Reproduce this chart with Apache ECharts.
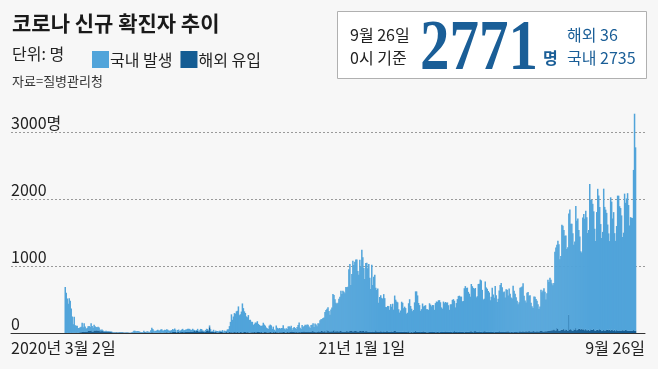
<!DOCTYPE html>
<html><head><meta charset="utf-8">
<script src="https://cdn.jsdelivr.net/npm/echarts@6/dist/echarts.min.js"></script>
<style>html,body{margin:0;padding:0;background:#f7f7f7}#c{width:658px;height:369px}</style>
</head><body><div id="c"></div>
<script>
// ---- Daily new confirmed cases (0시 기준), total and overseas-imported ----
const total_2020_03 = [686,600,516,438,518,483,367,248,131,242,114,110,107,76,74,84,93,152,87,147,98,64,76,100,104,91,146,105,78,125];
const overseas_2020_03 = [1,1,2,1,0,2,1,2,3,5,4,6,5,5,6,12,11,17,14,20,15,14,19,31,39,31,41,21,24,36];
const total_2020_04 = [101,89,86,94,81,47,47,53,39,27,30,32,25,27,27,22,22,18,8,13,9,11,8,6,10,10,10,14,9,4];
const overseas_2020_04 = [38,36,40,31,41,25,26,31,27,20,19,24,18,19,19,15,17,12,5,8,5,9,7,5,6,7,7,9,6,4];
const total_2020_05 = [9,6,13,8,3,2,4,12,18,34,35,27,26,29,27,19,13,15,13,32,12,20,23,25,16,19,40,79,58,39,27];
const overseas_2020_05 = [5,4,3,5,3,1,3,3,1,8,6,4,3,4,5,7,2,5,4,7,10,8,4,6,5,5,3,11,8,3,4];
const total_2020_06 = [35,38,49,39,39,51,57,38,38,50,45,56,49,37,34,37,43,59,49,67,48,17,46,51,28,39,51,62,42,43];
const overseas_2020_06 = [5,3,4,5,6,9,4,3,6,7,8,13,8,3,10,11,9,15,17,18,16,7,16,21,9,14,14,20,12,13];
const total_2020_07 = [51,54,63,63,61,48,44,63,50,45,35,44,62,33,39,61,60,39,34,26,45,63,59,41,113,58,25,28,48,18,36];
const overseas_2020_07 = [15,21,20,21,18,24,19,22,25,31,24,31,30,19,21,25,26,26,21,13,19,32,40,27,86,23,15,19,16,12,23];
const total_2020_08 = [31,30,23,34,33,23,43,20,36,28,34,54,56,103,166,279,197,246,297,288,324,332,397,266,280,320,441,371,323,299,248];
const overseas_2020_08 = [11,7,10,13,16,19,13,6,8,10,15,7,9,18,11,12,9,11,14,12,9,17,10,8,16,13,7,12,15,16,10];
const total_2020_09 = [235,267,195,198,168,167,119,136,156,155,176,136,121,109,106,113,153,126,110,82,70,61,110,125,114,61,95,50,38,113];
const overseas_2020_09 = [13,11,6,9,11,12,11,16,11,11,15,15,19,11,15,8,8,14,14,12,9,10,11,22,11,6,14,10,15,11];
const total_2020_10 = [77,63,75,64,73,75,114,69,54,72,58,98,102,84,110,47,73,91,76,58,91,121,155,77,61,119,88,103,125,114,127];
const overseas_2020_10 = [10,8,12,12,10,11,19,14,6,6,16,11,11,17,22,22,17,15,10,23,13,10,17,11,16,15,22,21,21,15,15];
const total_2020_11 = [124,97,75,118,125,145,89,143,126,100,146,143,191,205,208,223,230,313,343,363,386,330,271,349,382,583,569,503,450,438];
const overseas_2020_11 = [23,19,18,19,25,28,15,19,11,15,24,25,15,29,32,21,21,28,10,43,25,28,16,31,19,28,44,19,36,24];
const total_2020_12 = [451,511,540,629,583,631,615,594,686,682,689,950,1030,718,880,1078,1014,1064,1097,1097,926,869,1092,985,1241,1132,970,807,1046,1050,967];
const overseas_2020_12 = [31,18,28,29,24,16,21,20,24,31,24,22,28,36,32,24,26,28,30,26,21,24,28,30,25,28,30,20,30,25,23];
const total_2021_01 = [1029,824,657,1020,715,840,869,674,641,665,451,537,562,524,513,580,520,389,386,404,401,346,431,392,437,349,559,497,469,458,355];
const overseas_2021_01 = [19,23,16,23,22,19,16,41,24,23,22,21,25,23,14,26,21,17,28,25,18,16,23,24,17,26,38,28,19,22,16];
const total_2021_02 = [305,336,467,451,370,393,372,289,303,444,504,403,362,326,344,457,621,621,561,448,416,332,356,440,396,406,415,356];
const overseas_2021_02 = [22,17,16,20,19,23,19,17,14,26,10,11,19,10,14,20,31,17,19,18,16,14,17,22,25,18,20,11];
const total_2021_03 = [355,344,444,424,398,418,416,346,446,470,465,488,490,459,382,363,469,445,463,452,456,415,346,428,430,494,505,482,382,447,506];
const overseas_2021_03 = [11,13,16,16,23,15,17,16,12,13,19,14,11,22,15,16,18,21,23,22,16,17,20,15,19,12,15,29,17,15,14];
const total_2021_04 = [551,557,543,543,473,478,668,700,671,677,614,587,542,731,698,673,658,672,532,549,731,735,797,785,644,499,512,769,680,661];
const overseas_2021_04 = [18,15,22,19,22,17,11,21,22,19,18,21,25,26,20,12,27,28,23,18,19,24,20,16,13,22,26,25,18,20];
const total_2021_05 = [627,606,488,541,676,574,525,701,564,463,511,635,715,747,681,610,619,528,654,646,561,666,585,530,516,707,629,587,533,480,430];
const overseas_2021_05 = [21,20,16,16,17,15,13,19,17,18,16,25,23,16,21,16,17,15,23,22,25,20,13,17,18,10,20,16,16,15,13];
const total_2021_06 = [459,677,681,695,744,556,485,454,602,611,556,565,452,399,373,545,540,507,482,429,357,395,645,610,634,668,614,501,595,794];
const overseas_2021_06 = [21,25,19,24,27,18,22,25,21,23,30,21,23,21,27,33,15,25,23,26,20,32,29,31,23,24,27,26,27,32];
const total_2021_07 = [762,826,794,743,711,746,1212,1275,1316,1378,1324,1100,1150,1615,1600,1536,1452,1454,1252,1278,1784,1842,1630,1629,1487,1318,1365,1896,1674,1710,1539];
const overseas_2021_07 = [31,36,38,42,40,55,41,39,76,58,34,30,50,49,51,61,37,55,45,30,272,47,59,41,31,55,48,73,42,52,60];
const total_2021_08 = [1442,1219,1202,1725,1776,1704,1823,1729,1492,1537,2223,1987,1990,1928,1816,1556,1373,1805,2152,2052,1880,1626,1418,1509,2154,1882,1841,1793,1619,1487,1372];
const overseas_2021_08 = [62,54,64,54,56,40,62,40,40,50,35,57,46,48,63,39,35,48,48,41,58,47,29,37,44,36,39,45,48,42,49];
const total_2021_09 = [2025,1961,1709,1804,1490,1375,1597,2050,2049,1892,1865,1755,1433,1497,2080,1943,2008,2087,1910,1605,1729,1720,1716,2434,3273,2771];
const overseas_2021_09 = [36,47,42,34,49,28,44,37,30,40,31,38,42,38,37,46,42,31,34,34,32,33,32,44,34,36];

const dataStart = '2020-03-02';
const axisStart = '2020-01-08';
const axisEnd = '2021-10-05';
const seriesNames = ['국내 발생', '해외 유입'];
const yTicks = [0, 1000, 2000, 3000];
const yUnit = '명';
const xTickLabels = ['2020년 3월 2일', '21년 1월 1일', '9월 26일'];
const xTickDates = [axisStart, '2021-01-01', axisEnd];
const titleText = '코로나 신규 확진자 추이';
const unitText = '단위: 명';
const sourceText = '자료=질병관리청';
const boxDate = ['9월 26일', '0시 기준'];

const totalCases = [].concat(total_2020_03, total_2020_04, total_2020_05, total_2020_06, total_2020_07, total_2020_08, total_2020_09, total_2020_10, total_2020_11, total_2020_12, total_2021_01, total_2021_02, total_2021_03, total_2021_04, total_2021_05, total_2021_06, total_2021_07, total_2021_08, total_2021_09);
const overseasCases = [].concat(overseas_2020_03, overseas_2020_04, overseas_2020_05, overseas_2020_06, overseas_2020_07, overseas_2020_08, overseas_2020_09, overseas_2020_10, overseas_2020_11, overseas_2020_12, overseas_2021_01, overseas_2021_02, overseas_2021_03, overseas_2021_04, overseas_2021_05, overseas_2021_06, overseas_2021_07, overseas_2021_08, overseas_2021_09);

const DAY = 86400000;
function parse(s){const p=s.split('-').map(Number);return Date.UTC(p[0],p[1]-1,p[2]);}
const categories = [];
for (let t = parse(axisStart); t <= parse(axisEnd); t += DAY) categories.push(new Date(t).toISOString().slice(0,10));
const offset = Math.round((parse(dataStart) - parse(axisStart)) / DAY);
const overseasData = categories.map((c,i)=>{const k=i-offset;return (k>=0&&k<totalCases.length)?overseasCases[k]:null;});
const domesticData = categories.map((c,i)=>{const k=i-offset;return (k>=0&&k<totalCases.length)?totalCases[k]-overseasCases[k]:null;});

const latestTotal = totalCases[totalCases.length-1];
const latestOverseas = overseasCases[overseasCases.length-1];
const latestDomestic = latestTotal - latestOverseas;

const LIGHT = '#51a4da', DARK = '#145c93', BLUE = '#1a5e97';
const SANS = "'Liberation Sans Narrow','Noto Sans CJK KR',sans-serif";
const CJK = "'Noto Sans CJK KR',sans-serif";

const chart = echarts.init(document.getElementById('c'));
const option = {
  backgroundColor: '#f7f7f7',
  animation: false,
  grid: {left: 11, right: 13, top: 132, bottom: 36},
  legend: {
    data: seriesNames, left: 87, top: 46, itemWidth: 17, itemHeight: 17, itemGap: 8,
    icon: 'rect', selectedMode: false,
    textStyle: {fontSize: 16, color: '#222', fontFamily: SANS, padding: [0,0,0,-4]}
  },
  xAxis: {
    type: 'category', data: categories, boundaryGap: true,
    axisLine: {show: true, lineStyle: {color: '#333', width: 1}},
    axisTick: {show: false}, axisLabel: {show: false}, splitLine: {show: false}
  },
  yAxis: {
    type: 'value', min: yTicks[0], max: yTicks[yTicks.length-1], interval: yTicks[1]-yTicks[0],
    axisLine: {show: false}, axisTick: {show: false},
    splitLine: {show: true, lineStyle: {color: '#9a9a9a', type: [2,2], width: 1}},
    axisLabel: {
      inside: true, margin: 0, verticalAlign: 'bottom', padding: [0,0,1,0],
      fontSize: 16, color: '#222', fontFamily: SANS,
      formatter: v => v === yTicks[yTicks.length-1] ? v + yUnit : String(v)
    }
  },
  series: [
    {name: seriesNames[1], type: 'bar', stack: 'cases', data: overseasData, barWidth: 1.5,
     itemStyle: {color: DARK}, clip: false, silent: true},
    {name: seriesNames[0], type: 'bar', stack: 'cases', data: domesticData, barWidth: 1.5,
     itemStyle: {color: LIGHT}, clip: false, silent: true}
  ]
};
chart.setOption(option);

const labelY = 348;
const xl = xTickDates.map(d => chart.convertToPixel({xAxisIndex: 0}, d));
const graphics = [
  {type:'text', id:'title', style:{text:titleText, x:12, y:23, textVerticalAlign:'middle', font:"bold 21px "+CJK, fill:'#1a1a1a'}},
  {type:'text', id:'unit', style:{text:unitText, x:12, y:54, textVerticalAlign:'middle', font:"16px "+SANS, fill:'#222'}},
  {type:'text', id:'src', style:{text:sourceText, x:12, y:81, textVerticalAlign:'middle', font:"13px "+SANS, fill:'#333'}},
  {type:'rect', id:'box', shape:{x:337.5, y:11.5, width:309, height:67}, style:{fill:'#ffffff', stroke:'#b0b0b0', lineWidth:1}},
  {type:'text', id:'bd1', style:{text:boxDate[0], x:350, y:34.5, textVerticalAlign:'middle', font:"16px "+SANS, fill:'#222'}},
  {type:'text', id:'bd2', style:{text:boxDate[1], x:350, y:57.5, textVerticalAlign:'middle', font:"16px "+SANS, fill:'#222'}},
  {type:'text', id:'big', x:420, y:0, scaleX:0.83, style:{text:String(latestTotal), x:0, y:51, textVerticalAlign:'middle', font:"bold 71px 'Liberation Serif',serif", fill:BLUE}},
  {type:'text', id:'myeong', style:{text:yUnit, x:543, y:57.5, textVerticalAlign:'middle', font:"bold 16px "+CJK, fill:BLUE}},
  {type:'text', id:'ov', style:{text:'해외 ' + latestOverseas, x:567, y:34.5, textVerticalAlign:'middle', font:"16px "+SANS, fill:BLUE}},
  {type:'text', id:'dom', style:{text:'국내 ' + latestDomestic, x:567, y:57.5, textVerticalAlign:'middle', font:"16px "+SANS, fill:BLUE}},
  {type:'text', id:'xl0', style:{text:xTickLabels[0], x:xl[0]-0.5, y:labelY, textAlign:'left', textVerticalAlign:'middle', font:"16px "+SANS, fill:'#222'}},
  {type:'text', id:'xl1', style:{text:xTickLabels[1], x:xl[1]-7, y:labelY, textAlign:'center', textVerticalAlign:'middle', font:"16px "+SANS, fill:'#222'}},
  {type:'text', id:'xl2', style:{text:xTickLabels[2], x:xl[2]+0.5, y:labelY, textAlign:'right', textVerticalAlign:'middle', font:"16px "+SANS, fill:'#222'}}
];
chart.setOption({graphic: graphics});
</script></body></html>
